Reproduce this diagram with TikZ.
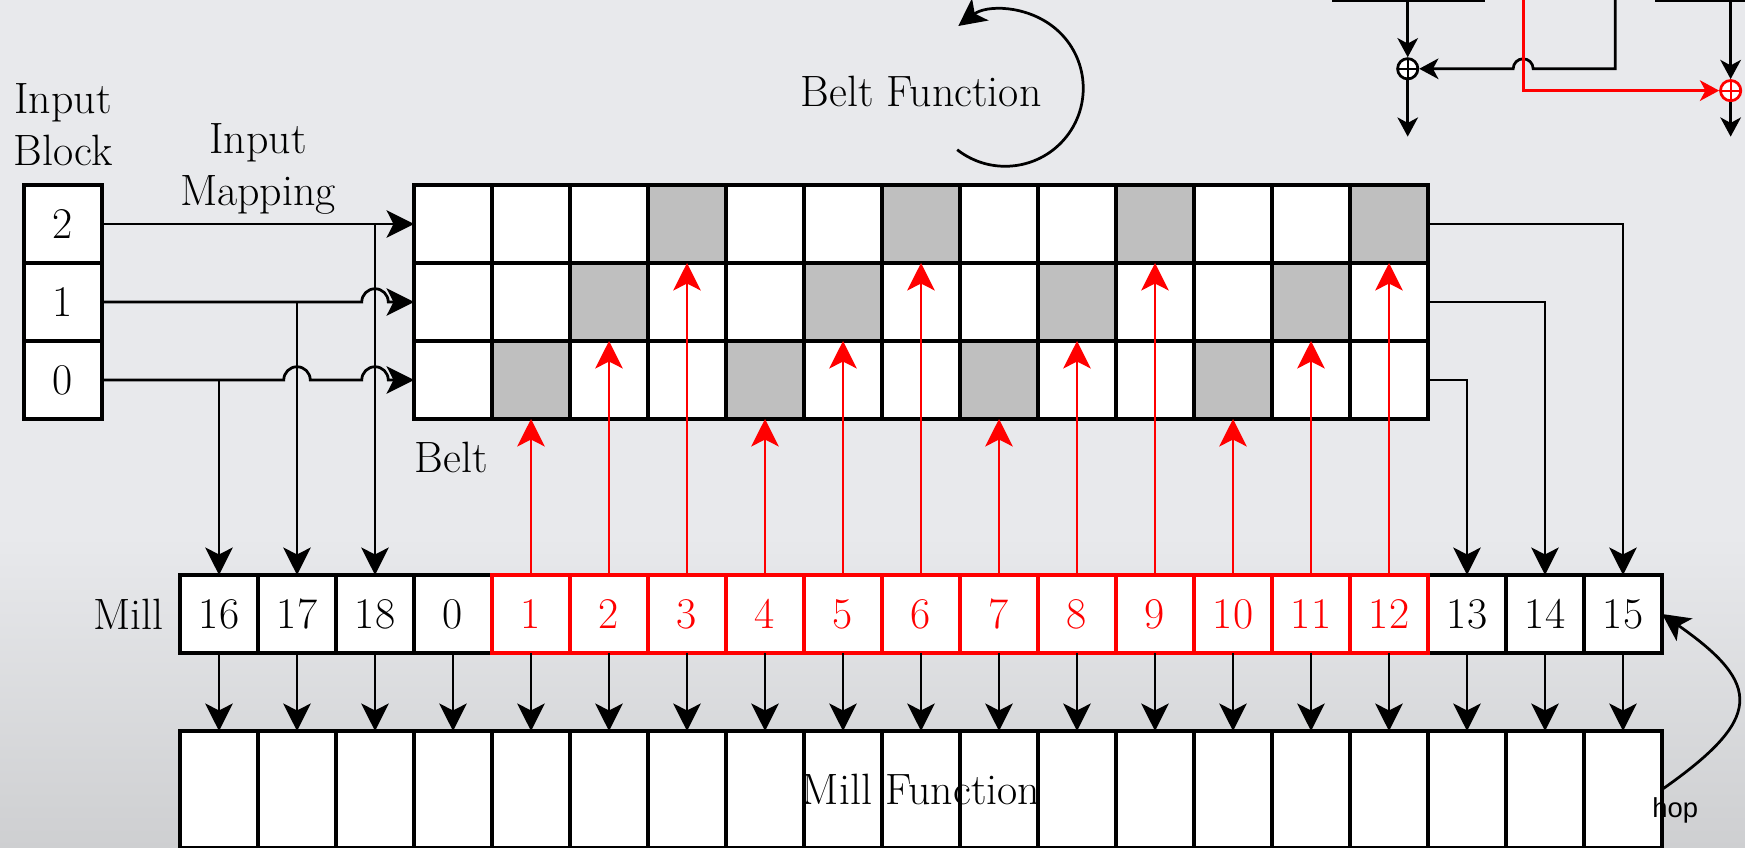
\documentclass[tikz,border=0pt]{standalone}
\usepackage{fontspec}
\newfontfamily\hopfont{Liberation Sans}
\usetikzlibrary{arrows.meta, positioning, calc}

\definecolor{bgcolor}{RGB}{232,233,236}
\definecolor{bgshade}{RGB}{206,207,209}

\begin{document}
\begin{tikzpicture}[x=1cm, y=1cm]
    % --- Style Definitions ---
    \tikzset{
        cell style/.style={
            draw=black,
            line width=1.2pt,
            fill=white,
            minimum size=1cm,
            inner sep=0pt,
            outer sep=0pt,
            font=\fontsize{16}{19}\selectfont
        },
        red cell/.style={
            cell style,
            draw=red,
            text=red
        },
        function cell/.style={
            cell style,
            minimum height=1.5cm
        },
        label text/.style={
            font=\fontsize{16}{19}\selectfont,
            inner sep=0pt,
            align=center
        },
        hop label/.style={
            font=\hopfont\fontsize{10}{12}\selectfont,
            inner sep=0pt
        },
        flow arrow/.style={
            -{Stealth[length=10pt, width=10pt, inset=2.5pt]},
            line width=1pt
        },
        red arrow/.style={
            flow arrow,
            red
        },
        small arrow/.style={
            -{Stealth[length=7pt, width=7.5pt, inset=2pt]},
            line width=1pt
        },
        adder/.style={
            circle, draw=#1, line width=1pt, fill=white,
            minimum size=0.26cm, inner sep=0pt,
            path picture={
                \draw[#1, line width=0.8pt]
                    (path picture bounding box.north) -- (path picture bounding box.south)
                    (path picture bounding box.west) -- (path picture bounding box.east);
            }
        },
        adder/.default=black
    }

    % Frame and hop sizes
    \def\xmin{-5.308}
    \def\xmax{17.064}
    \def\ymax{10.872}
    \def\hopr{0.17}   % hops on the input mapping
    \def\hops{0.128}  % hop on the adder feed

    \useasboundingbox (\xmin,0) rectangle (\xmax,\ymax);
    \clip (\xmin,0) rectangle (\xmax,\ymax);
    \fill[bgcolor] (\xmin,0) rectangle (\xmax,\ymax);
    \shade[top color=bgcolor, bottom color=bgshade] (\xmin,0) rectangle (\xmax,4);

    % --- 1. Input block ---
    \node[cell style] (in2) at (-4.5,8) {2};
    \node[cell style] (in1) at (-4.5,7) {1};
    \node[cell style] (in0) at (-4.5,6) {0};

    % --- 2. Belt, one gray slot per column ---
    \foreach \r in {0,1,2}{
        \foreach \c in {0,...,12}{
            \pgfmathtruncatemacro{\isfull}{(\c>0)&&(mod(\c-1,3)==\r)}
            \ifnum\isfull=1 \def\cellfill{gray!50}\else\def\cellfill{white}\fi
            \node[cell style, fill=\cellfill] (b\r-\c) at (\c+0.5,\r+6) {};
        }
    }

    % --- 3. Mill registers (red ones drawn last) ---
    \foreach \lab/\x in {16/-3, 17/-2, 18/-1, 0/0, 13/13, 14/14, 15/15}
        \node[cell style] (m\lab) at (\x+0.5,3) {\lab};
    \foreach \k in {1,...,12}
        \node[red cell] (m\k) at (\k+0.5,3) {\k};

    % --- 4. Mill function row ---
    \foreach \lab [count=\i from -3] in {16,17,18,0,1,2,3,4,5,6,7,8,9,10,11,12,13,14,15}{
        \node[function cell] (f\lab) at (\i+0.5,0.75) {};
        \draw[flow arrow] (m\lab.south) -- (f\lab.north);
    }
    \node[label text] (millfn) at ($(f16.west)!0.5!(f15.east)$) {Mill Function};

    % --- 5. Results written back into the belt ---
    \foreach \k in {1,...,12}{
        \pgfmathtruncatemacro{\r}{mod(\k-1,3)}
        \draw[red arrow] (m\k.north) -- (b\r-\k.south);
    }

    % --- 6. Input mapping ---
    \draw[flow arrow] (in2.east) -- (b2-0.west);
    \draw[flow arrow] (in1.east)
        -- ($(m18.north |- in1.east)+(-\hopr,0)$)
        arc[start angle=180, end angle=0, radius=\hopr] -- (b1-0.west);
    \draw[flow arrow] (in0.east)
        -- ($(m17.north |- in0.east)+(-\hopr,0)$)
        arc[start angle=180, end angle=0, radius=\hopr]
        -- ($(m18.north |- in0.east)+(-\hopr,0)$)
        arc[start angle=180, end angle=0, radius=\hopr] -- (b0-0.west);
    \draw[flow arrow] (m16.north |- in0.east) -- (m16.north);
    \draw[flow arrow] (m17.north |- in1.east) -- (m17.north);
    \draw[flow arrow] (m18.north |- in2.east) -- (m18.north);

    % --- 7. Belt end fed back to the mill ---
    \draw[flow arrow] (b0-12.east) -| (m13.north);
    \draw[flow arrow] (b1-12.east) -| (m14.north);
    \draw[flow arrow] (b2-12.east) -| (m15.north);

    % hop from the function back to the last register
    \draw[flow arrow] (f15.east) to[out=35, in=-35, looseness=1.8] (m15.east);
    \node[hop label, anchor=base] (hoplab) at (16.17,0.385) {hop};

    % --- 8. Labels ---
    \node[label text, above=0.24 of in2] (inblock) {Input\\Block};
    \node[label text, anchor=south] (inmap) at (-2,8.11) {Input\\Mapping};
    \node[label text, anchor=base west] (beltlab) at (0,4.82) {Belt};
    \node[label text, left=0.2 of m16] (milllab) {Mill};
    \node[label text, anchor=base] (beltfn) at (6.5,9.51) {Belt Function};
    \draw[flow arrow] (7.58,9.74) ++(-128:1) arc[start angle=-128, end angle=127, radius=1];

    % --- 9. Adders at the top edge ---
    \draw[line width=1.2pt] (11.77,\ymax) -- (13.73,\ymax);
    \draw[line width=1.2pt] (15.91,\ymax) -- (17.2,\ymax);
    \node[adder] (sumA) at (12.74,9.99) {};
    \node[adder=red] (sumB) at (16.88,9.71) {};
    \coordinate (feedA) at (12.74,10.95);
    \coordinate (feedB) at (14.22,10.95);
    \coordinate (feedC) at (15.40,10.95);
    \coordinate (feedD) at (16.88,10.95);
    \coordinate (outA) at (12.74,9.12);
    \coordinate (outB) at (16.88,9.12);
    \draw[small arrow] (feedA) -- (sumA.north);
    \draw[small arrow] (sumA.south) -- (outA);
    \draw[small arrow] (feedC) -- (feedC |- sumA.east)
        -- ($(feedB |- sumA.east)+(\hops,0)$)
        arc[start angle=0, end angle=180, radius=\hops] -- (sumA.east);
    \draw[small arrow, red] (feedB) |- (sumB.west);
    \draw[small arrow] (feedD) -- (sumB.north);
    \draw[small arrow] (sumB.south) -- (outB);

\end{tikzpicture}
\end{document}
